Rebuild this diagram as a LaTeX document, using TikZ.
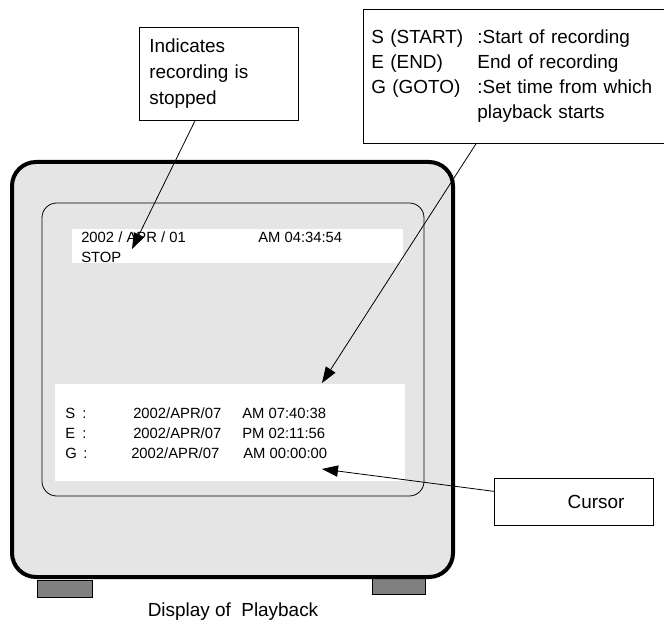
\documentclass[tikz,border=0pt]{standalone}
\usepackage{fontspec}
\setmainfont{Liberation Sans}
\usetikzlibrary{arrows.meta,positioning}
\definecolor{screengray}{RGB}{229,229,229}
\definecolor{footgray}{RGB}{128,128,128}

\begin{document}
\begin{tikzpicture}[x=0.75pt, y=-0.75pt,
    callout/.style={draw, line width=0.6pt, fill=white, anchor=north west,
                    align=left, inner ysep=0pt,
                    font=\fontsize{14.2}{19.5}\selectfont},
    scr/.style={anchor=west, inner sep=0pt, font=\fontsize{11.1}{15}\selectfont},
    arr/.style={-{Triangle[length=12pt, width=8.5pt]}, line width=0.6pt},
    foot/.style={draw, line width=0.6pt, fill=footgray}
  ]
  \useasboundingbox (0,0) rectangle (664,624);
  % --- Monitor ---
  \draw[foot] (37,580) rectangle (92,597);
  \draw[foot] (372,577) rectangle (425,594);
  \draw[line width=3pt, fill=screengray, rounded corners=18pt]
    (12,162) rectangle (453,577);
  \draw[line width=0.6pt, rounded corners=11pt] (42,203) rectangle (424,496);
  \fill[white] (72,229) rectangle (403,263);
  \fill[white] (55,384) rectangle (405,481);
  % --- Screen text ---
  \node[scr] (date) at (81,237) {2002 / APR / 01};
  \node[scr] (clock) at (258,237) {AM 04:34:54};
  \node[scr] (stop) at (81,257) {STOP};
  \node[scr] (slbl) at (65,413) {\makebox[12.75pt][l]{S}:};
  \node[scr] (sdate) at (133,413) {2002/APR/07};
  \node[scr] (stime) at (242,413) {AM 07:40:38};
  \node[scr] (elbl) at (65,433) {\makebox[12.75pt][l]{E}:};
  \node[scr] (edate) at (133,433) {2002/APR/07};
  \node[scr] (etime) at (242,433) {PM 02:11:56};
  \node[scr] (glbl) at (65,453) {\makebox[13.5pt][l]{G}:};
  \node[scr] (gdate) at (131,453) {2002/APR/07};
  \node[scr] (gtime) at (243,453) {AM 00:00:00};
  \node[font=\fontsize{14.2}{16}\selectfont] (caption) at (233,612)
    {Display of~ Playback};
  % --- Callouts ---
  \node[callout, inner xsep=7.5pt, text width=104.25pt, minimum height=69.75pt]
    (ind) at (139,27) {Indicates\\recording is\\stopped};
  \node[callout, inner xsep=6pt, text width=225.75pt, minimum height=100.5pt,
        font=\fontsize{14.2}{18.75}\selectfont]
    (legend) at (363,9)
    {\makebox[79.5pt][l]{S (START)}:Start of recording\\
     \makebox[79.5pt][l]{E (END)}\rlap{:}End of recording\\
     \makebox[79.5pt][l]{G (GOTO)}:Set time from which\\
     \makebox[79.5pt][l]{}playback starts};
  \node[callout, align=right, inner xsep=21.75pt, text width=75.75pt,
        minimum height=35.25pt] (cur) at (494,478) {Cursor};
  % --- Arrows ---
  \coordinate (stoptip) at (132,249);
  \coordinate (rangetip) at (322,383);
  \coordinate (cursortip) at (322,469);
  \draw[arr] ([xshift=42pt]ind.south west) -- (stoptip);
  \draw[arr] ([xshift=84.75pt]legend.south west) -- (rangetip);
  \draw[arr] ([yshift=7.9pt]cur.west) -- (cursortip);
\end{tikzpicture}
\end{document}
